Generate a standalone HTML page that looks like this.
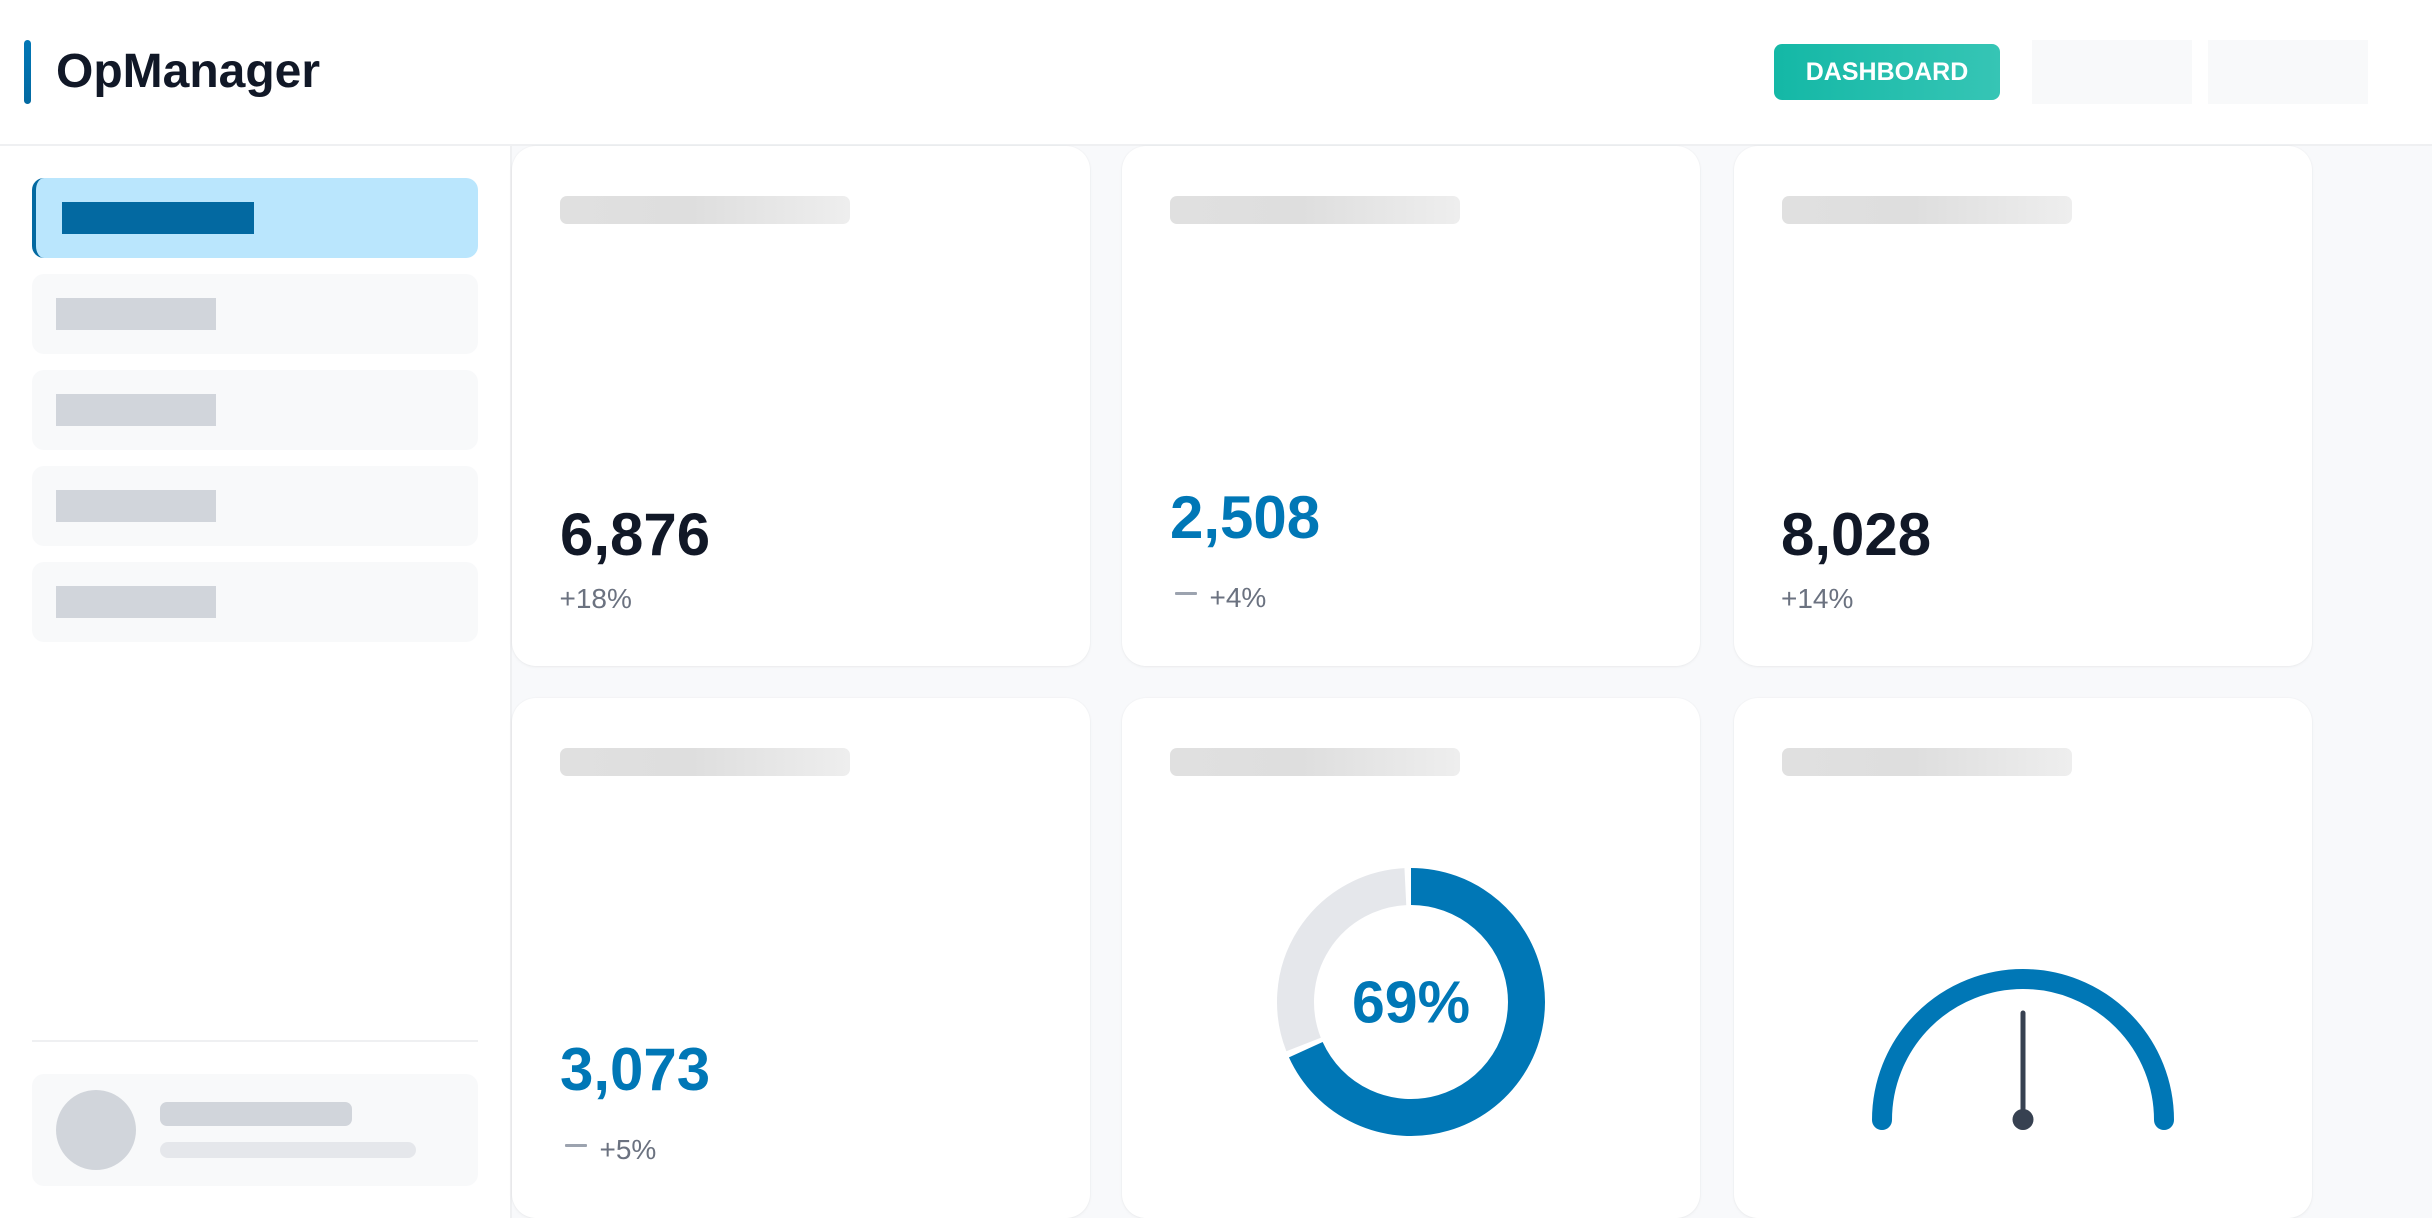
<!DOCTYPE html>
<html>
<head>
<meta charset="utf-8">
<style>
  html, body { margin:0; padding:0; }
  body { width:2432px; height:1218px; position:relative; overflow:hidden; background:#f8f9fb; font-family:"Liberation Sans", Arial, sans-serif; }
  .abs { position:absolute; }
  .header { left:0; top:0; width:2432px; height:144px; background:#fff; border-bottom:2px solid #eff0f2; }
  .sidebar { left:0; top:146px; width:510px; height:1072px; background:#fff; border-right:2px solid #eff0f2; }
  .item { position:absolute; left:32px; width:446px; height:80px; border-radius:12px; background:#f8f9fa; }
  .item .bar { position:absolute; left:24px; top:24px; width:160px; height:32px; background:#d1d5db; }
  .card { position:absolute; width:578px; height:520px; background:#fff; border-radius:24px; box-shadow:0 1px 3px rgba(0,0,0,0.05), 0 0 0 1px rgba(0,0,0,0.012); }
  .skel { position:absolute; left:48px; top:50px; width:290px; height:28px; border-radius:7px; background:linear-gradient(90deg,#e0e0e0 0%,#dedede 45%,#eeeeee 100%); }
  .num { position:absolute; font-size:60px; line-height:60px; font-weight:bold; color:#111827; white-space:nowrap; }
  .blue { color:#0077b6; }
  .trend { position:absolute; font-size:28px; line-height:28px; color:#6b7280; white-space:nowrap; }
  .dash { position:absolute; width:22px; height:3px; background:#9ca3af; border-radius:1px; }
</style>
</head>
<body>
  <!-- Header -->
  <div class="abs header"></div>
  <div class="abs" style="left:24px;top:40px;width:7px;height:64px;border-radius:4px;background:linear-gradient(180deg,#0277b6,#0369a1);"></div>
  <div class="abs" style="left:56px;top:48.4px;font-size:48px;line-height:48px;font-weight:bold;color:#111827;white-space:nowrap;">OpManager</div>
  <div class="abs" style="left:1774px;top:44px;width:226px;height:56px;border-radius:8px;background:linear-gradient(90deg,#14b8a6,#36c5b5);">
    <div style="position:absolute;left:0;top:15.8px;width:100%;text-align:center;font-size:25px;line-height:25px;font-weight:bold;color:#fff;">DASHBOARD</div>
  </div>
  <div class="abs" style="left:2032px;top:40px;width:160px;height:64px;background:#f8f9fa;"></div>
  <div class="abs" style="left:2208px;top:40px;width:160px;height:64px;background:#f8f9fa;"></div>

  <!-- Sidebar -->
  <div class="abs sidebar"></div>
  <div class="item" style="top:178px;background:#bae6fd;border-left:4px solid #0369a1;width:442px;">
    <div style="position:absolute;left:26px;top:24px;width:192px;height:32px;background:#0369a1;"></div>
  </div>
  <div class="item" style="top:274px;"><div class="bar"></div></div>
  <div class="item" style="top:370px;"><div class="bar"></div></div>
  <div class="item" style="top:466px;"><div class="bar"></div></div>
  <div class="item" style="top:562px;"><div class="bar"></div></div>

  <div class="abs" style="left:32px;top:1040px;width:446px;height:2px;background:#eff0f2;"></div>
  <div class="abs" style="left:32px;top:1074px;width:446px;height:112px;border-radius:12px;background:#f8f9fa;"></div>
  <div class="abs" style="left:56px;top:1090px;width:80px;height:80px;border-radius:50%;background:#d1d5db;"></div>
  <div class="abs" style="left:160px;top:1102px;width:192px;height:24px;border-radius:7px;background:#d1d5db;"></div>
  <div class="abs" style="left:160px;top:1142px;width:256px;height:16px;border-radius:8px;background:#e5e7eb;"></div>

  <!-- Row 1 cards -->
  <div class="card" style="left:512px;top:146px;"><div class="skel"></div></div>
  <div class="card" style="left:1122px;top:146px;"><div class="skel"></div></div>
  <div class="card" style="left:1734px;top:146px;"><div class="skel"></div></div>

  <!-- Row 2 cards -->
  <div class="card" style="left:512px;top:698px;"><div class="skel"></div></div>
  <div class="card" style="left:1122px;top:698px;"><div class="skel"></div></div>
  <div class="card" style="left:1734px;top:698px;"><div class="skel"></div></div>

  <!-- Card texts -->
  <div class="num" style="left:560px;top:504.5px;">6,876</div>
  <div class="trend" style="left:559.5px;top:584.6px;">+18%</div>

  <div class="num blue" style="left:1170px;top:487.7px;">2,508</div>
  <div class="dash" style="left:1175px;top:592px;"></div>
  <div class="trend" style="left:1209.5px;top:584.3px;">+4%</div>

  <div class="num" style="left:1781px;top:504.5px;">8,028</div>
  <div class="trend" style="left:1781px;top:584.6px;">+14%</div>

  <div class="num blue" style="left:560px;top:1039.6px;">3,073</div>
  <div class="dash" style="left:565px;top:1144px;"></div>
  <div class="trend" style="left:599.5px;top:1136px;">+5%</div>

  <!-- Charts -->
  <svg class="abs" style="left:0;top:0;" width="2432" height="1218" viewBox="0 0 2432 1218">
    <!-- Donut -->
    <path d="M 1303.6 1044.5 A 115.5 115.5 0 0 1 1405.36 886.64" fill="none" stroke="#e5e7eb" stroke-width="37"/>
    <path d="M 1411 886.5 A 115.5 115.5 0 1 1 1305.8 1049.7" fill="none" stroke="#0077b6" stroke-width="37"/>
    <text x="1411" y="1022.5" text-anchor="middle" font-family="Liberation Sans, Arial, sans-serif" font-weight="bold" font-size="59" fill="#0077b6">69%</text>
    <!-- Gauge -->
    <path d="M 1882 1120 A 141 141 0 0 1 2164 1120" fill="none" stroke="#0077b6" stroke-width="20" stroke-linecap="round"/>
    <line x1="2023" y1="1118" x2="2023" y2="1013" stroke="#374151" stroke-width="5" stroke-linecap="round"/>
    <circle cx="2023" cy="1119.5" r="10.5" fill="#374151"/>
  </svg>
</body>
</html>
